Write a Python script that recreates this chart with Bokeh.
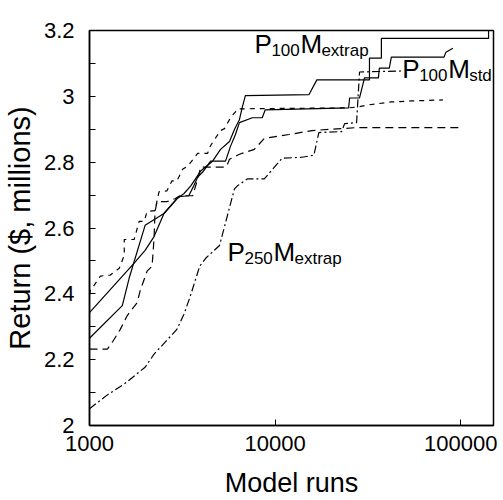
from bokeh.plotting import figure
from bokeh.models import Range1d, FixedTicker, ColumnDataSource
from bokeh.core.properties import value
from bokeh.embed import file_html
from bokeh.resources import INLINE

FONT = "Liberation Sans"

# ---- data (model runs, return in $ millions) ----
s1_x = [1000, 1740, 1993, 2227, 2518, 2955, 3221, 3512, 3971, 4603, 5081, 5676, 6036, 6420, 6660, 6913,
        15200, 16770, 32210, 32210, 37340, 37340, 141100, 141100]
s1_y = [2.343, 2.493, 2.532, 2.574, 2.644, 2.689, 2.704, 2.728, 2.773, 2.803, 2.839, 2.863, 2.899, 2.929, 2.968, 3.002,
        3.005, 3.050, 3.050, 3.116, 3.116, 3.176, 3.176, 3.2]

s2_x = [1000, 1502, 1636, 1993, 2518, 3029, 3426, 3644, 3827, 4071, 4491, 5404, 5745, 6111, 6420, 7534, 8521, 8843,
        24870, 25180, 28480, 30280, 35980, 36430, 41210, 42240, 81110, 83140, 90620]
s2_y = [2.265, 2.364, 2.448, 2.608, 2.644, 2.695, 2.698, 2.728, 2.755, 2.770, 2.803, 2.803, 2.848, 2.884, 2.920, 2.935, 2.935, 2.959,
        2.965, 2.995, 2.995, 3.056, 3.056, 3.086, 3.086, 3.119, 3.119, 3.134, 3.146]

da_x = [1000, 1012, 1063, 1145, 1295, 1447, 1539, 1539, 1740, 1851, 1969, 2043, 2254, 2367, 2613, 2779, 2955,
        3183, 3384, 3689, 3827, 4330, 4436, 4603, 5081, 5338, 5745, 6111, 6262, 24870, 28130, 31810, 42240, 54030, 80110]
da_y = [2.397, 2.412, 2.427, 2.454, 2.457, 2.478, 2.517, 2.565, 2.565, 2.620, 2.620, 2.650, 2.653, 2.710, 2.713, 2.743, 2.743,
        2.779, 2.788, 2.815, 2.827, 2.827, 2.845, 2.860, 2.896, 2.902, 2.935, 2.953, 2.962, 2.965, 2.968, 2.974, 2.983, 2.986, 2.989]

db_x = [1000, 1248, 1327, 1465, 1597, 1805, 1874, 2043, 2173, 2227, 2254, 2310, 2613, 2884, 3066, 3598, 3827, 3971,
        5404, 5538, 5676, 6420, 7722, 8735, 11880, 15770, 27450, 100000]
db_y = [2.232, 2.232, 2.253, 2.292, 2.334, 2.373, 2.409, 2.469, 2.484, 2.568, 2.650, 2.680, 2.680, 2.689, 2.698, 2.698, 2.749, 2.785,
        2.785, 2.794, 2.809, 2.824, 2.839, 2.872, 2.884, 2.896, 2.905, 2.905]

dd_x = [1000, 1248, 1539, 1993, 2227, 2613, 2955, 3221, 3468, 3923, 4224, 5018, 6036, 6262, 7085, 8735,
        10900, 13950, 16170, 17190, 22820, 23670, 27450, 28480, 47760]
dd_y = [2.051, 2.093, 2.126, 2.177, 2.217, 2.259, 2.292, 2.337, 2.388, 2.484, 2.508, 2.547, 2.719, 2.728, 2.749, 2.749,
        2.812, 2.815, 2.821, 2.890, 2.893, 2.917, 2.920, 3.074, 3.077]

x_ticks = [1000, 10000, 100000]
x_tick_labels = ["1000", "10000", "100000"]
y_ticks = [2.0, 2.2, 2.4, 2.6, 2.8, 3.0, 3.2]
y_tick_labels = ["2", "2.2", "2.4", "2.6", "2.8", "3", "3.2"]
y_minor = [2.1, 2.3, 2.5, 2.7, 2.9, 3.1]

# annotation labels: (main1, sub1, main2, sub2) and anchor
labels_text = [("P", "100", "M", "extrap"), ("P", "100", "M", "std"), ("P", "250", "M", "extrap")]
labels_x = [7730, 48300, 5534]
labels_y = [3.158, 3.083, 2.527]

p = figure(width=503, height=500, x_axis_type="log",
           x_range=Range1d(1000, 150000), y_range=Range1d(2.0, 3.2),
           output_backend="svg", toolbar_location=None,
           min_border_left=86, min_border_right=10, min_border_top=30, min_border_bottom=71)

p.grid.visible = False
p.background_fill_color = "white"
p.outline_line_color = "black"
p.outline_line_width = 1.5

lw = 1.2
p.line(s1_x, s1_y, line_color="black", line_width=lw)
p.line(s2_x, s2_y, line_color="black", line_width=lw)
p.line(da_x, da_y, line_color="black", line_width=lw, line_dash="5 5")
p.line(db_x, db_y, line_color="black", line_width=lw, line_dash="8 5")
p.line(dd_x, dd_y, line_color="black", line_width=lw, line_dash="8 3 2 3")

# labels with subscripts
big = dict(x=[], y=[], t=[], xo=[])
small = dict(x=[], y=[], t=[], xo=[])
big_offsets = [0, 46]
small_offsets = [17, 67]
for (m1, s1, m2, s2), lx, ly in zip(labels_text, labels_x, labels_y):
    for t, o in zip([m1, m2], big_offsets):
        big["x"].append(lx); big["y"].append(ly); big["t"].append(t); big["xo"].append(o)
    for t, o in zip([s1, s2], small_offsets):
        small["x"].append(lx); small["y"].append(ly); small["t"].append(t); small["xo"].append(o)

p.text(x="x", y="y", text="t", x_offset="xo", source=ColumnDataSource(big),
       text_font=value(FONT), text_font_size="26px", text_baseline="alphabetic",
       text_align="left", text_color="black")
p.text(x="x", y="y", text="t", x_offset="xo", y_offset=6, source=ColumnDataSource(small),
       text_font=value(FONT), text_font_size="17px", text_baseline="alphabetic",
       text_align="left", text_color="black")

# axes
xa = p.xaxis[0]
xa.ticker = FixedTicker(ticks=x_ticks, minor_ticks=[])
xa.major_label_overrides = {t: l for t, l in zip(x_ticks, x_tick_labels)}
ya = p.yaxis[0]
ya.ticker = FixedTicker(ticks=y_ticks, minor_ticks=y_minor)
ya.major_label_overrides = {t: l for t, l in zip(y_ticks, y_tick_labels)}

for ax in (xa, ya):
    ax.axis_line_color = "black"
    ax.axis_line_width = 1.5
    ax.major_tick_in = 6
    ax.major_tick_out = 0
    ax.major_tick_line_width = 1
    ax.major_label_text_font = FONT
    ax.major_label_text_font_size = "22px"
    ax.major_label_text_color = "black"
    ax.axis_label_text_font = FONT
    ax.axis_label_text_font_style = "normal"
    ax.axis_label_text_color = "black"
xa.axis_label_text_font_size = "27px"
ya.axis_label_text_font_size = "29px"
xa.major_label_standoff = 10
ya.major_label_standoff = 15
xa.minor_tick_line_color = None
ya.minor_tick_in = 6
ya.minor_tick_out = 0
ya.minor_tick_line_width = 1
xa.axis_label = "Model runs"
ya.axis_label = "Return ($, millions)"
xa.axis_label_standoff = 14
ya.axis_label_standoff = 5

open("out.html", "w").write(file_html(p, INLINE))
